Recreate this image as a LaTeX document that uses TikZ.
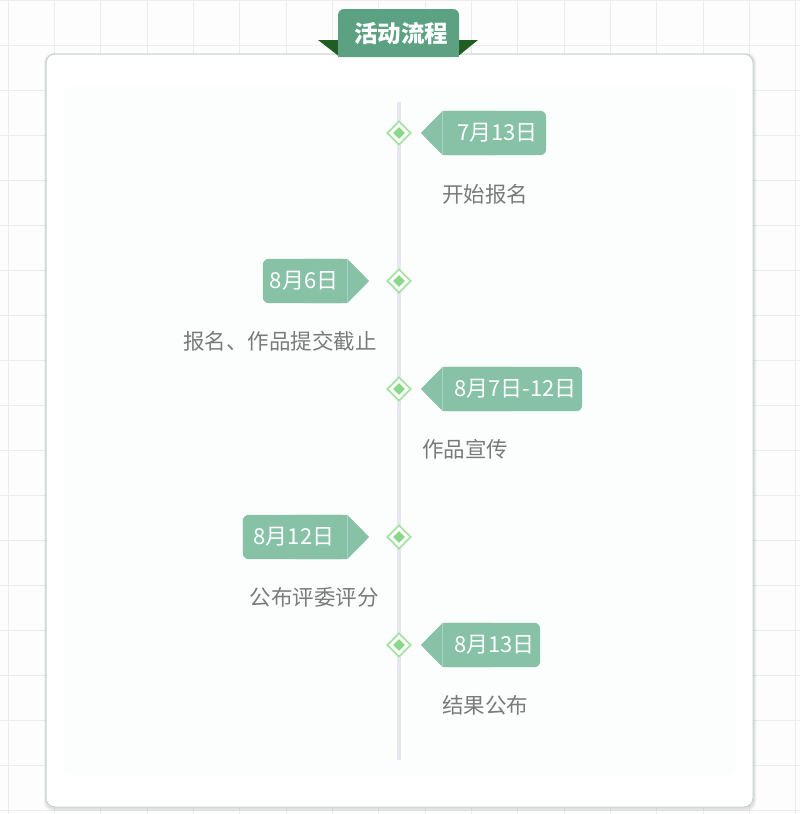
\documentclass[tikz,border=0pt]{standalone}
\usepackage{fontspec}
\setmainfont{Noto Sans CJK SC}
\usetikzlibrary{shapes.geometric,calc}

\definecolor{gridc}{HTML}{EBECEC}
\definecolor{pagebg}{HTML}{FDFDFD}
\definecolor{cardedge}{HTML}{C9D1D1}
\definecolor{innerbg}{HTML}{FCFDFD}
\definecolor{tabgreen}{HTML}{5BA182}
\definecolor{tabdark}{HTML}{1F5E22}
\definecolor{tagc}{HTML}{87C2A7}
\definecolor{tagsep}{HTML}{A9D4C0}
\definecolor{linec}{HTML}{E7E7F1}
\definecolor{dmout}{HTML}{A6E2A3}
\definecolor{dmin}{HTML}{8AD789}
\definecolor{labelc}{HTML}{7A7A7A}

\tikzset{
  x=1pt, y=-1pt,
  gridline/.style={gridc, line width=1pt},
  tagbody/.style={inner sep=0pt, minimum height=44pt, text=white, font=\fontsize{22}{24}\selectfont},
  evlabel/.style={inner sep=0pt, text=labelc, font=\fontsize{21.5}{24}\selectfont},
  dmouter/.style={diamond, draw=dmout, fill=white, line width=1.8pt, inner sep=0pt, minimum width=24pt, minimum height=24pt},
  dminner/.style={diamond, fill=dmin, inner sep=0pt, minimum width=12pt, minimum height=12pt},
}

\begin{document}
\begin{tikzpicture}
\useasboundingbox (0,0) rectangle (800,814);
\fill[pagebg] (0,0) rectangle (800,814);

% background grid
\foreach \i in {0,...,17} {
  \draw[gridline] ({8+46.35*\i},0) -- ({8+46.35*\i},814);
}
\foreach \j in {0,...,18} {
  \draw[gridline] (0,{45*\j}) -- (800,{45*\j});
}

% card with soft shadow
\fill[black, opacity=0.05, rounded corners=9pt] (44,53) rectangle (756,811);
\fill[black, opacity=0.06, rounded corners=9pt] (45,54) rectangle (755,809.5);
\filldraw[fill=white, draw=cardedge, line width=1pt, rounded corners=9pt] (46,54) rectangle (753,807);
\fill[innerbg, rounded corners=8pt] (63,87) rectangle (736,775);

% title tab
\fill[tabdark] (318,40) -- (340,40) -- (340,57) -- cycle;
\fill[tabdark] (478,40) -- (457,40) -- (457,57) -- cycle;
\fill[tabgreen, rounded corners=6pt] (338,57) -- (338,9) -- (459,9) -- (459,57) [sharp corners] -- cycle;
\fill[tabgreen] (338,40) rectangle (459,57);
\node[inner sep=0pt, text=white, font=\fontsize{23.5}{25}\selectfont\bfseries] (title) at (401,34) {活动流程};

% timeline
\coordinate (top) at (399,102);
\coordinate (bot) at (399,760);
\draw[linec, line width=4pt] (top) -- (bot);

% milestones
\foreach \n/\yy in {1/133, 2/281, 3/389, 4/537, 5/645} {
  \node[dmouter] (d\n) at (399,\yy) {};
  \node[dminner] (di\n) at (399,\yy) {};
}

% tags pointing left (to the right of the line)
\foreach \n/\xc/\w/\yy/\txt in {1/494.5/103/133/{7月13日}, 3/512.5/139/389/{8月7日-12日}, 5/491.5/97/645/{8月13日}} {
  \node[tagbody, minimum width=\w pt] (t\n) at (\xc,\yy) {};
  \fill[tagc, rounded corners=6pt] (t\n.north west) rectangle (t\n.south east);
  \fill[tagc] ($(t\n.west)+(-22,0)$) -- (t\n.north west) -- (t\n.north) -- (t\n.south) -- (t\n.south west) -- cycle;
  \draw[tagsep, line width=0.8pt] (t\n.north west) -- (t\n.south west);
  \node[tagbody, minimum width=\w pt] (tt\n) at ($(t\n)+(3,0)$) {\txt};
}

% tags pointing right (to the left of the line)
\foreach \n/\xc/\w/\yy/\txt in {2/305/84/281/{8月6日}, 4/295/104/537/{8月12日}} {
  \node[tagbody, minimum width=\w pt] (t\n) at (\xc,\yy) {};
  \fill[tagc, rounded corners=6pt] (t\n.north west) rectangle (t\n.south east);
  \fill[tagc] ($(t\n.east)+(22,0)$) -- (t\n.north east) -- (t\n.north) -- (t\n.south) -- (t\n.south east) -- cycle;
  \draw[tagsep, line width=0.8pt] (t\n.north east) -- (t\n.south east);
  \node[tagbody, minimum width=\w pt] (tt\n) at ($(t\n)+(-1,0)$) {\txt};
}

% event descriptions
\node[evlabel] (l1) at (485,194) {开始报名};
\node[evlabel] (l2) at (280,341) {报名、作品提交截止};
\node[evlabel] (l3) at (465,449) {作品宣传};
\node[evlabel] (l4) at (314,597) {公布评委评分};
\node[evlabel] (l5) at (485,705) {结果公布};
\end{tikzpicture}
\end{document}
